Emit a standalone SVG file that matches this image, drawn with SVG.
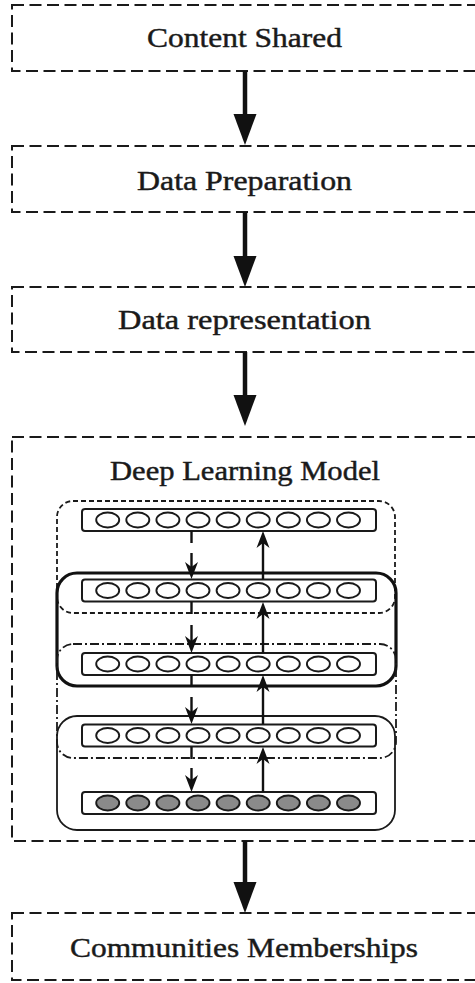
<svg xmlns="http://www.w3.org/2000/svg" width="475" height="983" viewBox="0 0 475 983">
  <style>
    .stage { fill: #ffffff; stroke: #1a1a1a; stroke-width: 2; stroke-dasharray: 12 5.5; }
    .label { font-family: "Liberation Serif", "DejaVu Serif", serif; font-size: 28px; fill: #1a1a1a; stroke: #1a1a1a; stroke-width: 0.45; text-anchor: middle; }
    .flow { stroke: #111; stroke-width: 4.5; fill: none; }
    .bar { fill: #ffffff; stroke: #1a1a1a; stroke-width: 2; }
    .unit { fill: #ffffff; stroke: #1a1a1a; stroke-width: 1.9; }
    .unit-in { fill: #8a8a8a; stroke: #1a1a1a; stroke-width: 1.9; }
    .grp-dash { fill: none; stroke: #1a1a1a; stroke-width: 1.8; stroke-dasharray: 5 3; }
    .grp-thick { fill: none; stroke: #111; stroke-width: 3.2; }
    .grp-dashdot { fill: none; stroke: #1a1a1a; stroke-width: 1.8; stroke-dasharray: 9 3 2 3; }
    .grp-thin { fill: none; stroke: #1a1a1a; stroke-width: 1.8; }
    .down { stroke: #111; stroke-width: 2.4; fill: none; }
    .up { stroke: #111; stroke-width: 2.4; fill: none; }
  </style>
  <defs>
    <marker id="bigHead" viewBox="0 -12 31 24" refX="11" refY="0" markerWidth="31" markerHeight="24" markerUnits="userSpaceOnUse" orient="auto">
      <path d="M0,-11.5 L31,0 L0,11.5 Z" fill="#111"/>
    </marker>
    <marker id="smallHead" viewBox="0 -7 17 14" refX="10" refY="0" markerWidth="17" markerHeight="14" markerUnits="userSpaceOnUse" orient="auto">
      <path d="M0,-6.5 L17,0 L0,6.5 L5,0 Z" fill="#111"/>
    </marker>
    <g id="layer">
      <rect class="bar" x="82" y="-11" width="294" height="22" rx="3"/>
      <ellipse class="unit" cx="107.7" cy="0" rx="11.5" ry="7.5"/>
      <ellipse class="unit" cx="137.8" cy="0" rx="11.5" ry="7.5"/>
      <ellipse class="unit" cx="167.9" cy="0" rx="11.5" ry="7.5"/>
      <ellipse class="unit" cx="198" cy="0" rx="11.5" ry="7.5"/>
      <ellipse class="unit" cx="228.1" cy="0" rx="11.5" ry="7.5"/>
      <ellipse class="unit" cx="258.2" cy="0" rx="11.5" ry="7.5"/>
      <ellipse class="unit" cx="288.3" cy="0" rx="11.5" ry="7.5"/>
      <ellipse class="unit" cx="318.4" cy="0" rx="11.5" ry="7.5"/>
      <ellipse class="unit" cx="348.5" cy="0" rx="11.5" ry="7.5"/>
    </g>
  </defs>

  <rect width="475" height="983" fill="#ffffff"/>

  <!-- pipeline stages -->
  <g id="content-shared">
    <rect class="stage" x="12" y="5" width="470" height="66"/>
    <text class="label" x="244.5" y="47" textLength="195" lengthAdjust="spacingAndGlyphs">Content Shared</text>
  </g>
  <g id="data-preparation">
    <rect class="stage" x="12" y="146" width="470" height="66"/>
    <text class="label" x="244.5" y="190" textLength="215" lengthAdjust="spacingAndGlyphs">Data Preparation</text>
  </g>
  <g id="data-representation">
    <rect class="stage" x="12" y="287" width="470" height="65"/>
    <text class="label" x="244.5" y="329" textLength="253" lengthAdjust="spacingAndGlyphs">Data representation</text>
  </g>
  <g id="deep-learning-model">
    <rect class="stage" x="12" y="437" width="470" height="404"/>
    <text class="label" x="245" y="480" textLength="270" lengthAdjust="spacingAndGlyphs">Deep Learning Model</text>

    <!-- stacked layers -->
    <g id="layer-1"><use href="#layer" y="520"/></g>
    <g id="layer-2"><use href="#layer" y="590.5"/></g>
    <g id="layer-3"><use href="#layer" y="664"/></g>
    <g id="layer-4"><use href="#layer" y="735.5"/></g>
    <g id="layer-5">
      <rect class="bar" x="82" y="792" width="294" height="22" rx="3"/>
      <ellipse class="unit-in" cx="107.7" cy="803" rx="11.5" ry="7.5"/>
      <ellipse class="unit-in" cx="137.8" cy="803" rx="11.5" ry="7.5"/>
      <ellipse class="unit-in" cx="167.9" cy="803" rx="11.5" ry="7.5"/>
      <ellipse class="unit-in" cx="198" cy="803" rx="11.5" ry="7.5"/>
      <ellipse class="unit-in" cx="228.1" cy="803" rx="11.5" ry="7.5"/>
      <ellipse class="unit-in" cx="258.2" cy="803" rx="11.5" ry="7.5"/>
      <ellipse class="unit-in" cx="288.3" cy="803" rx="11.5" ry="7.5"/>
      <ellipse class="unit-in" cx="318.4" cy="803" rx="11.5" ry="7.5"/>
      <ellipse class="unit-in" cx="348.5" cy="803" rx="11.5" ry="7.5"/>
    </g>

    <!-- layer pairings -->
    <g id="pair-groups">
      <rect class="grp-dash" x="57" y="501" width="338" height="112" rx="16"/>
      <rect class="grp-thick" x="57" y="573" width="339" height="113" rx="20"/>
      <rect class="grp-dashdot" x="57" y="644" width="339" height="114" rx="16"/>
      <rect class="grp-thin" x="57" y="716" width="338" height="114" rx="20"/>
    </g>
  </g>
  <g id="communities-memberships">
    <rect class="stage" x="12" y="913" width="470" height="67"/>
    <text class="label" x="244" y="957" textLength="348" lengthAdjust="spacingAndGlyphs">Communities Memberships</text>
  </g>

  <!-- connectors -->
  <g id="connectors">
    <line class="flow" x1="245" y1="71" x2="245" y2="125" marker-end="url(#bigHead)"/>
    <line class="flow" x1="245" y1="212" x2="245" y2="267" marker-end="url(#bigHead)"/>
    <line class="flow" x1="245" y1="352" x2="245" y2="406" marker-end="url(#bigHead)"/>
    <line class="flow" x1="245" y1="841" x2="245" y2="893" marker-end="url(#bigHead)"/>

    <!-- encoding passes (dashed, downward) -->
    <line class="down" x1="191.5" y1="531" x2="191.5" y2="543"/>
    <line class="down" x1="191.5" y1="553" x2="191.5" y2="572" marker-end="url(#smallHead)"/>
    <line class="down" x1="191.5" y1="602" x2="191.5" y2="614"/>
    <line class="down" x1="191.5" y1="625" x2="191.5" y2="646" marker-end="url(#smallHead)"/>
    <line class="down" x1="191.5" y1="675" x2="191.5" y2="687"/>
    <line class="down" x1="191.5" y1="697" x2="191.5" y2="717" marker-end="url(#smallHead)"/>
    <line class="down" x1="191.5" y1="747" x2="191.5" y2="759"/>
    <line class="down" x1="191.5" y1="768" x2="191.5" y2="785" marker-end="url(#smallHead)"/>

    <!-- reconstruction passes (solid, upward) -->
    <line class="up" x1="263" y1="579" x2="263" y2="538" marker-end="url(#smallHead)"/>
    <line class="up" x1="263" y1="653" x2="263" y2="609" marker-end="url(#smallHead)"/>
    <line class="up" x1="263" y1="724" x2="263" y2="682" marker-end="url(#smallHead)"/>
    <line class="up" x1="263" y1="792" x2="263" y2="754" marker-end="url(#smallHead)"/>
  </g>
</svg>
